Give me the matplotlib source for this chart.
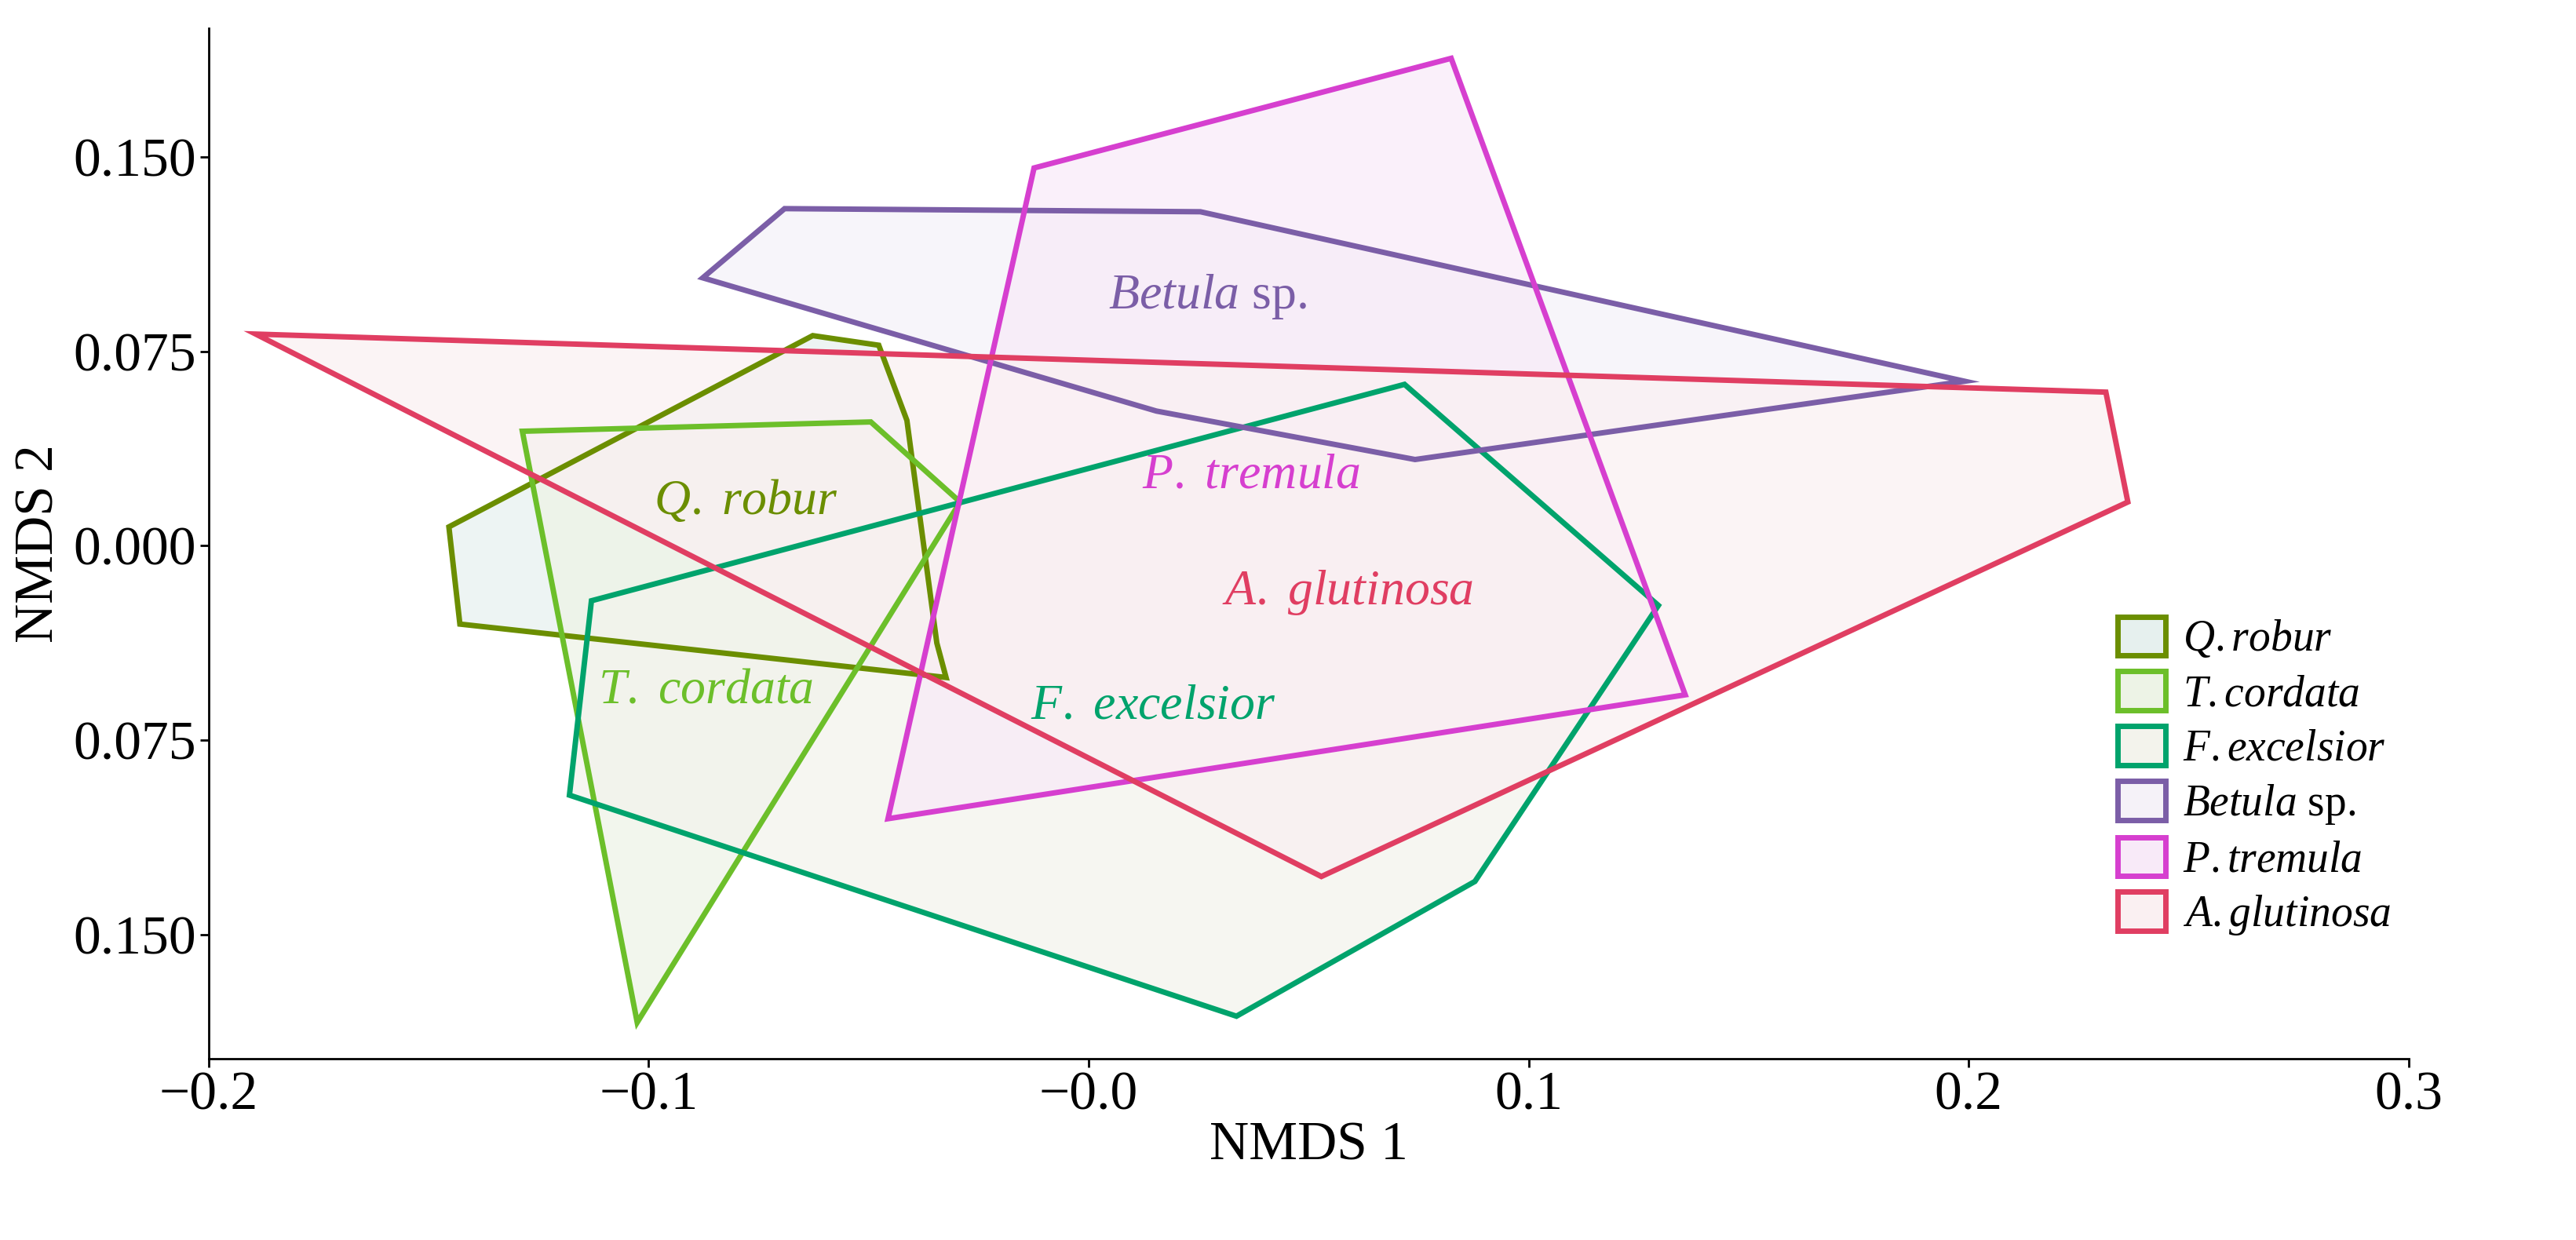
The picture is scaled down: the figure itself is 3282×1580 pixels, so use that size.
import matplotlib
matplotlib.use("Agg")
import matplotlib.pyplot as plt
from matplotlib.patches import Polygon, Patch

plt.rcParams['font.family'] = ['Liberation Serif', 'DejaVu Serif']
plt.rcParams['mathtext.fontset'] = 'custom'
plt.rcParams['mathtext.rm'] = 'Liberation Serif'
plt.rcParams['mathtext.it'] = 'Liberation Serif:italic'

names = ["Q.robur", "T.cordata", "F.excelsior", "Betula sp.", "P.tremula", "A.glutinosa"]
legend_labels = [r"$\it{Q.robur}$", r"$\it{T.cordata}$", r"$\it{F.excelsior}$", r"$\it{Betula}$ sp.", r"$\it{P.tremula}$", r"$\it{A.glutinosa}$"]
colors = ["#6B8E00", "#6CBF2A", "#00A36C", "#7B5EA7", "#D63FCF", "#E03E62"]
fills = ["#E6F0EE", "#EDF3E6", "#F3F3EC", "#F5F2F8", "#F8EAF8", "#FAF0F2"]

q_robur = [(-0.1454, 0.0073), (-0.0627, 0.0811), (-0.0477, 0.0774), (-0.0413, 0.0484), (-0.0345, -0.0375), (-0.0324, -0.0508), (-0.1429, -0.0302)]
t_cordata = [(-0.1287, 0.0442), (-0.0495, 0.0478), (-0.0292, 0.0169), (-0.1026, -0.1839)]
f_excelsior = [(-0.1130, -0.0212), (0.0718, 0.0623), (0.1295, -0.0230), (0.0878, -0.1295), (0.0336, -0.1815), (-0.1180, -0.0962)]
betula = [(-0.0877, 0.1034), (-0.0691, 0.1301), (0.0254, 0.1289), (0.1991, 0.0635), (0.0742, 0.0333), (0.0154, 0.0520)]
p_tremula = [(-0.0124, 0.1458), (0.0824, 0.1881), (0.1356, -0.0575), (-0.0456, -0.1053)]
a_glutinosa = [(-0.1893, 0.0817), (0.2312, 0.0593), (0.2362, 0.0169), (0.0529, -0.1276)]
hulls = [q_robur, t_cordata, f_excelsior, betula, p_tremula, a_glutinosa]

label_text = [r"$\it{Q.\ robur}$", r"$\it{T.\ cordata}$", r"$\it{F.\ excelsior}$", r"$\it{Betula}$ sp.", r"$\it{P.\ tremula}$", r"$\it{A.\ glutinosa}$"]
label_pos = [(-0.078, 0.017), (-0.087, -0.056), (0.0147, -0.062), (0.027, 0.096), (0.037, 0.027), (0.059, -0.018)]

xticks = [-0.2, -0.1, 0.0, 0.1, 0.2, 0.3]
xticklabels = ["\u22120.2", "\u22120.1", "\u22120.0", "0.1", "0.2", "0.3"]
yticks = [-0.15, -0.075, 0.0, 0.075, 0.15]
yticklabels = ["0.150", "0.075", "0.000", "0.075", "0.150"]

fig = plt.figure(figsize=(32.82, 15.8), dpi=100)
ax = fig.add_axes([0.081, 0.146, 0.854, 0.831])

for pts, fc in zip(hulls, fills):
    ax.add_patch(Polygon(pts, closed=True, facecolor=fc, edgecolor='none', alpha=0.7, zorder=1))
for pts, ec in zip(hulls, colors):
    ax.add_patch(Polygon(pts, closed=True, facecolor='none', edgecolor=ec, linewidth=5, zorder=2))

for t, (x, y), c in zip(label_text, label_pos, colors):
    ax.text(x, y, t, color=c, fontsize=46, ha='center', va='center', zorder=3)

ax.set_xlim(-0.2, 0.3)
ax.set_ylim(-0.198, 0.1996)
ax.set_xticks(xticks)
ax.set_xticklabels(xticklabels)
ax.set_yticks(yticks)
ax.set_yticklabels(yticklabels)
ax.tick_params(labelsize=50, length=8, width=2)
ax.spines['top'].set_visible(False)
ax.spines['right'].set_visible(False)
ax.spines['left'].set_linewidth(2)
ax.spines['bottom'].set_linewidth(2)
ax.set_xlabel("NMDS 1", fontsize=50, labelpad=0)
ax.set_ylabel("NMDS 2", fontsize=50, labelpad=8)

handles = [Patch(facecolor=f, edgecolor=c, linewidth=5) for f, c in zip(fills, colors)]
ax.legend(handles, legend_labels, loc='lower right', bbox_to_anchor=(1.01, 0.08), frameon=False,
          fontsize=40, handlelength=1.1, handleheight=1.0, labelspacing=0.25, handletextpad=0.4)

fig.savefig("out.png", dpi=100)
